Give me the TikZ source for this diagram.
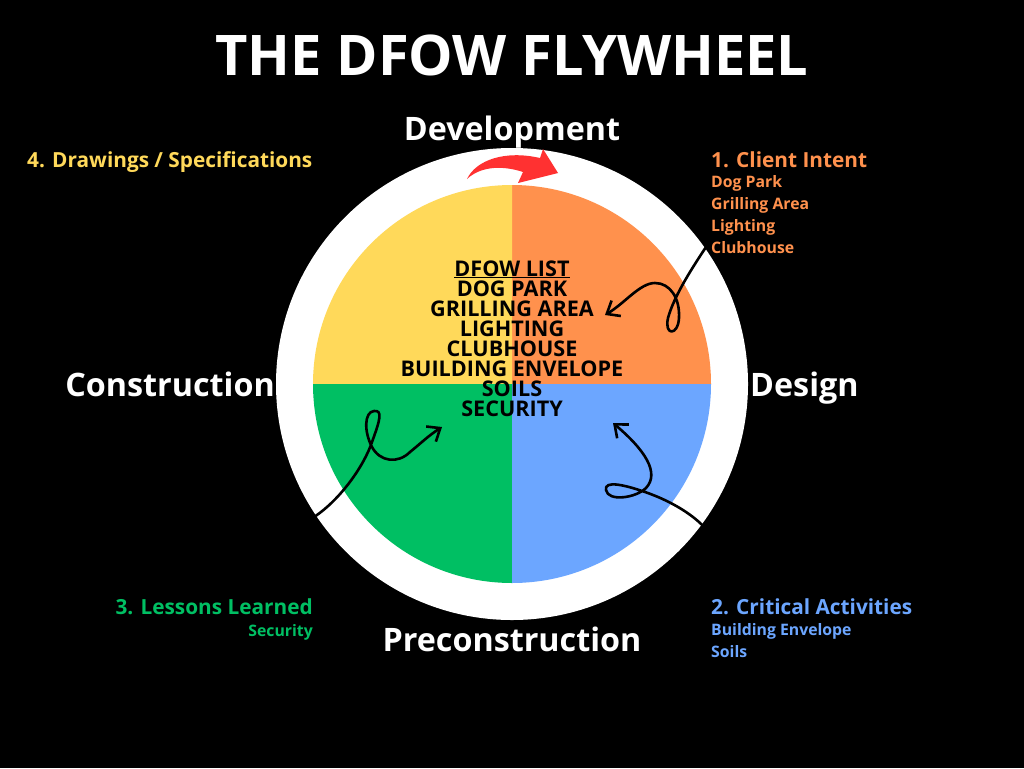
\documentclass[tikz,border=0pt]{standalone}
\usepackage{fontspec}
\setmainfont{Open Sans}
\usetikzlibrary{arrows.meta}
\definecolor{cyel}{HTML}{FFD95A}
\definecolor{corange}{HTML}{FF914D}
\definecolor{cgreen}{HTML}{00BF63}
\definecolor{cblue}{HTML}{6CA6FF}
\definecolor{cred}{HTML}{FF3131}
\begin{document}
\begin{tikzpicture}[x=1pt,y=-1pt,
  titletext/.style={font=\fontsize{56}{60}\selectfont\bfseries, text=white, inner sep=0pt},
  phase/.style={font=\fontsize{32.3}{34}\selectfont\bfseries, text=white, inner sep=0pt},
  head/.style={font=\fontsize{20.8}{22}\selectfont\bfseries, inner sep=0pt},
  sub/.style={font=\fontsize{15.8}{17}\selectfont\bfseries, inner sep=0pt},
  item/.style={font=\fontsize{21.6}{20}\selectfont\bfseries, text=black, inner sep=0pt, anchor=base},
  curl/.style={line width=2.6pt, line cap=round, line join=round, black,
    -{Straight Barb[length=11pt, width=18pt, line width=2.6pt]}}]
\fill[black] (0,0) rectangle (1024,768);
\useasboundingbox (0,0) rectangle (1024,768);

% wheel
\node[circle, fill=white, minimum size=472pt, inner sep=0pt] (ring) at (512,384) {};
\coordinate (c) at (512,384);
\fill[corange] (c) -- (711,384) arc[start angle=0, end angle=-90, radius=199] -- cycle;
\fill[cyel] (c) -- (512,185) arc[start angle=-90, end angle=-180, radius=199] -- cycle;
\fill[cgreen] (c) -- (313,384) arc[start angle=180, end angle=90, radius=199] -- cycle;
\fill[cblue] (c) -- (512,583) arc[start angle=90, end angle=0, radius=199] -- cycle;

% title and phases
\node[titletext, anchor=base] (title) at (512,75) {THE DFOW FLYWHEEL};
\node[phase, anchor=base] (dev) at (512,140) {Development};
\node[phase, anchor=base west] (design) at (750,396) {Design};
\node[phase, anchor=base east] (constr) at (275,396) {Construction};
\node[phase, anchor=base] (precon) at (512,651) {Preconstruction};

% red arrow
\fill[cred] (467,179) .. controls (476,160) and (505,150) .. (540,158)
  -- (543,149) -- (558,173) -- (518,183) -- (523,172)
  .. controls (505,166) and (482,165) .. (467,179) -- cycle;

% labels
\node[head, text=cyel, anchor=base west] (l4) at (27,167) {4. Drawings / Specifications};
\node[head, text=corange, anchor=base west] (l1) at (711,167) {1. Client Intent};
\node[sub, text=corange, anchor=base west] (l1a) at (711,187) {Dog Park};
\node[sub, text=corange, anchor=base west] (l1b) at (711,209) {Grilling Area};
\node[sub, text=corange, anchor=base west] (l1c) at (711,231) {Lighting};
\node[sub, text=corange, anchor=base west] (l1d) at (711,253) {Clubhouse};
\node[head, text=cgreen, anchor=base east] (l3) at (313,614) {3. Lessons Learned};
\node[sub, text=cgreen, anchor=base east] (l3a) at (313,636) {Security};
\node[head, text=cblue, anchor=base west] (l2) at (711,614) {2. Critical Activities};
\node[sub, text=cblue, anchor=base west] (l2a) at (711,635) {Building Envelope};
\node[sub, text=cblue, anchor=base west] (l2b) at (711,657) {Soils};

% centre list
\node[item] (i0) at (512,276) {\underline{DFOW LIST}};
\node[item] (i1) at (512,296) {DOG PARK};
\node[item] (i2) at (512,316) {GRILLING AREA};
\node[item] (i3) at (512,336) {LIGHTING};
\node[item] (i4) at (512,356) {CLUBHOUSE};
\node[item] (i5) at (512,376) {BUILDING ENVELOPE};
\node[item] (i6) at (512,396) {SOILS};
\node[item] (i7) at (512,416) {SECURITY};

% curly connectors
\coordinate (s1) at (708,244);
\coordinate (t1) at (605,315);
\draw[curl] (s1) .. controls (692,268) and (674,296) .. (668,318)
  .. controls (664,336) and (678,336) .. (679,318)
  .. controls (680,298) and (670,283) .. (655,283)
  .. controls (640,283) and (625,303) .. (t1);

\coordinate (s2) at (717,553);
\coordinate (t2) at (613,423);
\draw[curl] (s2) .. controls (716,528) and (680,504) .. (645,492)
  .. controls (625,485) and (604,480) .. (606,490)
  .. controls (608,502) and (636,498) .. (646,488)
  .. controls (660,473) and (645,450) .. (t2);

\coordinate (s3) at (314,517);
\coordinate (t3) at (442,427);
\draw[curl] (s3) .. controls (340,500) and (364,466) .. (372,442)
  .. controls (380,420) and (383,410) .. (374,411)
  .. controls (364,412) and (364,432) .. (372,447)
  .. controls (380,462) and (398,464) .. (410,452)
  .. controls (420,444) and (428,436) .. (t3);
\end{tikzpicture}
\end{document}
